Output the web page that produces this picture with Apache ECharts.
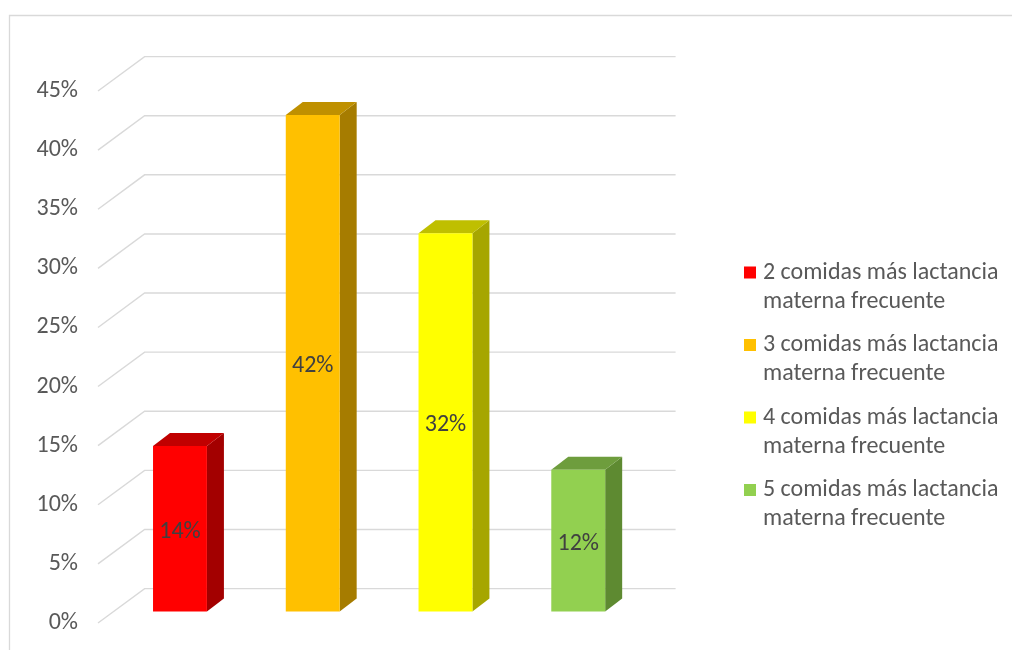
<!DOCTYPE html>
<html>
<head>
<meta charset="utf-8">
<script src="https://cdn.jsdelivr.net/npm/echarts@6/dist/echarts.min.js"></script>
<style>
  html, body { margin: 0; padding: 0; background: #fff; }
  #chart { width: 1012px; height: 650px; }
</style>
</head>
<body>
<div id="chart"></div>
<script>
// Categories (one bar each) and their percentages
const categories = [
  '2 comidas más lactancia\nmaterna frecuente',
  '3 comidas más lactancia\nmaterna frecuente',
  '4 comidas más lactancia\nmaterna frecuente',
  '5 comidas más lactancia\nmaterna frecuente'
];
const values = [14, 42, 32, 12];

// Value-axis ticks (percent)
const yTicks = [0, 5, 10, 15, 20, 25, 30, 35, 40, 45];

// Face colours for each bar: front, side, top
const frontColors = ['#FF0000', '#FFC000', '#FFFF00', '#92D050'];
const sideColors  = ['#A30000', '#A67C00', '#A6A600', '#5E8A31'];
const topColors   = ['#C00000', '#BF9000', '#BFBF00', '#6E9D3D'];

// Oblique projection offsets (pixels)
const WALL_DX = 46.6, WALL_DY = -34.4;   // back wall relative to front edge of floor
const BAR_DX = 15.6, BAR_DY = -11.5;     // front face of the bars
const DEPTH_DX = 17, DEPTH_DY = -13;     // bar depth
const BAR_RATIO = 0.406;

const FONT = 'Carlito, Lato, "Liberation Sans", sans-serif';
const FONT_SIZE = 24;

const chart = echarts.init(document.getElementById('chart'), null, { renderer: 'canvas' });

// Gridlines: diagonal on the side wall, then horizontal along the back wall
function renderGrid(params, api) {
  const cs = params.coordSys;
  const v = api.value(0);
  const y = api.coord([0, v])[1];
  const x0 = cs.x;
  const pts = [
    [x0, y],
    [x0 + WALL_DX, y + WALL_DY],
    [x0 + cs.width + WALL_DX, y + WALL_DY]
  ];
  return {
    type: 'polyline',
    shape: { points: pts },
    style: { stroke: '#D9D9D9', lineWidth: 1.4, fill: null },
    silent: true
  };
}

function makeBarRenderer(i) {
  return function (params, api) {
    const cat = api.value(0);
    const val = api.value(1);
    const top = api.coord([cat, val]);
    const base = api.coord([cat, 0]);
    const w = api.size([1, 0])[0] * BAR_RATIO;
    const xl = top[0] - w / 2 + BAR_DX;
    const xr = top[0] + w / 2 + BAR_DX;
    const yt = top[1] + BAR_DY;
    const yb = base[1] + BAR_DY;
    return {
      type: 'group',
      children: [
        {
          type: 'polygon',
          shape: { points: [[xr, yt], [xr, yb], [xr + DEPTH_DX, yb + DEPTH_DY], [xr + DEPTH_DX, yt + DEPTH_DY]] },
          style: { fill: sideColors[i] }
        },
        {
          type: 'polygon',
          shape: { points: [[xl, yt], [xr, yt], [xr + DEPTH_DX, yt + DEPTH_DY], [xl + DEPTH_DX, yt + DEPTH_DY]] },
          style: { fill: topColors[i] }
        },
        {
          type: 'rect',
          shape: { x: xl, y: yt, width: xr - xl, height: yb - yt },
          style: { fill: frontColors[i] }
        },
        {
          type: 'text',
          x: (xl + xr) / 2,
          y: (yt + yb) / 2 + 3,
          style: {
            text: val + '%',
            fill: '#404040',
            font: FONT_SIZE + 'px ' + FONT,
            align: 'center',
            verticalAlign: 'middle'
          }
        }
      ]
    };
  };
}

// Legend marker: a square on the first text line (a tiny dot sets the icon height)
const legendIcon = 'path://M0,0h12v12h-12zM0,40.99h0.01v0.01h-0.01z';

const barSeries = categories.map(function (name, i) {
  return {
    type: 'custom',
    name: name,
    itemStyle: { color: frontColors[i] },
    renderItem: makeBarRenderer(i),
    encode: { x: 0, y: 1 },
    data: [[i, values[i]]],
    z: 3
  };
});

const option = {
  animation: false,
  backgroundColor: '#ffffff',
  graphic: [{
    type: 'rect',
    shape: { x: 9.5, y: 15.5, width: 1100, height: 700 },
    style: { fill: null, stroke: '#D9D9D9', lineWidth: 1.3 },
    silent: true
  }],
  grid: { left: 98, top: 91, width: 531, height: 532 },
  xAxis: {
    type: 'category',
    data: categories,
    axisLine: { show: false },
    axisTick: { show: false },
    axisLabel: { show: false },
    splitLine: { show: false }
  },
  yAxis: {
    type: 'value',
    min: 0,
    max: 45,
    interval: 5,
    axisLine: { show: false },
    axisTick: { show: false },
    splitLine: { show: false },
    axisLabel: {
      formatter: '{value}%',
      color: '#595959',
      fontFamily: FONT,
      fontSize: FONT_SIZE,
      lineHeight: 28,
      margin: 20,
      padding: [8, 0, 0, 0]
    }
  },
  legend: {
    orient: 'vertical',
    left: 744,
    top: 258,
    padding: 0,
    itemGap: 14.5,
    itemWidth: 12,
    itemHeight: 41,
    icon: legendIcon,
    data: categories,
    selectedMode: false,
    textStyle: {
      color: '#595959',
      fontFamily: FONT,
      fontSize: FONT_SIZE,
      lineHeight: 29,
      padding: [0, 0, 0, 2]
    }
  },
  series: [{
    type: 'custom',
    name: 'grid',
    renderItem: renderGrid,
    encode: { y: 0 },
    data: yTicks.map(function (t) { return [t]; }),
    silent: true,
    z: 1
  }].concat(barSeries)
};

chart.setOption(option);
</script>
</body>
</html>
